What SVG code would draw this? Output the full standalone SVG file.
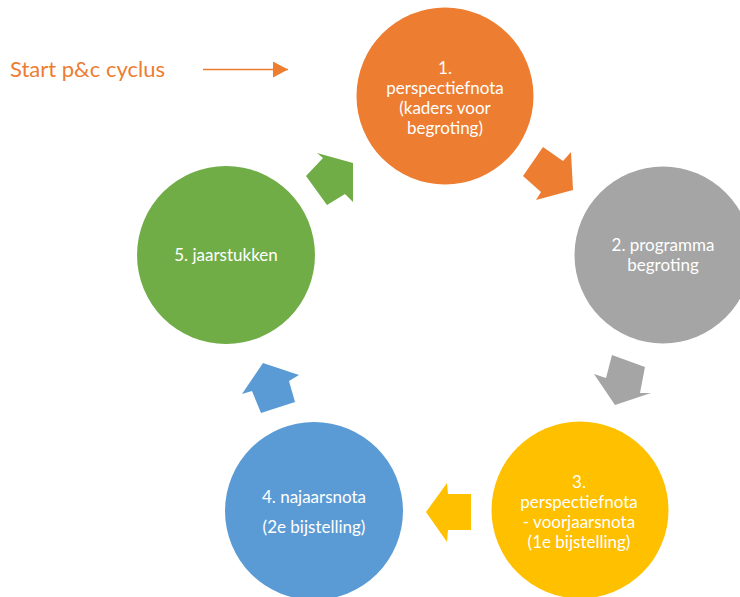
<svg xmlns="http://www.w3.org/2000/svg" width="740" height="597" viewBox="0 0 740 597">
<style>
.lbl{font-family:Lato,"Liberation Sans",sans-serif;font-size:17px;fill:#ffffff;text-anchor:middle}
.start{font-family:Lato,"Liberation Sans",sans-serif;font-size:22px;fill:#ED7D31}
</style>
<defs>
<marker id="ah" markerWidth="16" markerHeight="16" refX="15" refY="8" orient="auto" markerUnits="userSpaceOnUse">
<path d="M0,0 L15,8 L0,16 Z" fill="#ED7D31"/>
</marker>
</defs>
<rect width="740" height="597" fill="#ffffff"/>
<g id="start">
<text class="start" x="10" y="77">Start p&amp;c cyclus</text>
</g>
<g id="connectors">
<line x1="203" y1="69.5" x2="288" y2="69.5" stroke="#ED7D31" stroke-width="1.5" marker-end="url(#ah)"/>
<polygon fill="#ED7D31" points="523,176 543,147 563,161 571,152 573,190 536,200 541,192"/>
<polygon fill="#A5A5A5" points="612,355 645,367 640,393 651,393 615,405 594,374 606,378"/>
<polygon fill="#FFC000" points="471,494 448,494 447,483 426,512 447,542 448,530 471,530"/>
<polygon fill="#5B9BD5" points="261,413 295,402 289,381 299,375 263,363 242,394 252,391"/>
<polygon fill="#70AD47" points="306,176 323,158 317,153 353,163 353,202 345,194 327,205"/>
</g>
<g id="node1">
<circle cx="445" cy="96" r="88.5" fill="#ED7D31"/>
<text class="lbl" x="445" y="74">1.</text>
<text class="lbl" x="445" y="94">perspectiefnota</text>
<text class="lbl" x="445" y="114">(kaders voor</text>
<text class="lbl" x="445" y="134">begroting)</text>
</g>
<g id="node2">
<circle cx="663" cy="255" r="88.5" fill="#A5A5A5"/>
<text class="lbl" x="663" y="251">2. programma</text>
<text class="lbl" x="663" y="271">begroting</text>
</g>
<g id="node3">
<circle cx="580" cy="510" r="88.5" fill="#FFC000"/>
<text class="lbl" x="579" y="488">3.</text>
<text class="lbl" x="579" y="508">perspectiefnota</text>
<text class="lbl" x="579" y="528">- voorjaarsnota</text>
<text class="lbl" x="579" y="548">(1e bijstelling)</text>
</g>
<g id="node4">
<circle cx="314" cy="511" r="89" fill="#5B9BD5"/>
<text class="lbl" x="314" y="503">4. najaarsnota</text>
<text class="lbl" x="314" y="533">(2e bijstelling)</text>
</g>
<g id="node5">
<circle cx="226" cy="255" r="89" fill="#70AD47"/>
<text class="lbl" x="226" y="261">5. jaarstukken</text>
</g>
</svg>
